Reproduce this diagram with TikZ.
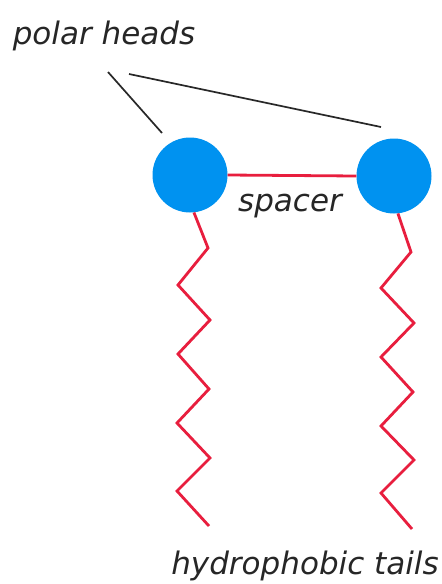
\documentclass[tikz,border=0pt]{standalone}
\usepackage{fontspec}
\setmainfont{DejaVu Sans}
\definecolor{headblue}{RGB}{0,146,240}
\definecolor{tailred}{RGB}{232,30,62}
\definecolor{leader}{RGB}{40,40,40}
\tikzset{
  head/.style={circle,fill=headblue,minimum size=75pt,inner sep=0pt},
  tail/.style={draw=tailred,line width=2.8pt,line join=miter},
  leaderline/.style={draw=leader,line width=1.7pt},
  lbl/.style={font=\itshape\fontsize{31}{34}\selectfont,text=black!85,inner sep=0pt}
}
\begin{document}
\begin{tikzpicture}[x=1pt,y=-1pt]
\useasboundingbox (0,0) rectangle (442,584);
\fill[white] (0,0) rectangle (442,584);
\node[head] (hl) at (190,175) {};
\node[head] (hr) at (394,176) {};
\draw[tail] (hl.east) -- (hr.west);
\node[lbl] (pol) at (104,36) {polar heads};
\node[lbl] (spc) at (290,206) {spacer};
\node[lbl] (hyd) at (305,566) {hydrophobic tails};
\coordinate (l1a) at (108,72);
\coordinate (l1b) at (162,133);
\coordinate (l2a) at (129,74);
\coordinate (l2b) at (381,127);
\draw[leaderline] (l1a) -- (l1b);
\draw[leaderline] (l2a) -- (l2b);
\draw[tail] (hl.-84) -- (208,248) -- (178,285) -- (210,320) -- (178,354) -- (209,389) -- (177,423) -- (210,458) -- (177,491) -- (209,526);
\draw[tail] (hr.-84) -- (411,252) -- (381,288) -- (414,323) -- (381,357) -- (413,392) -- (381,426) -- (414,460) -- (381,493) -- (412,529);
\end{tikzpicture}
\end{document}
